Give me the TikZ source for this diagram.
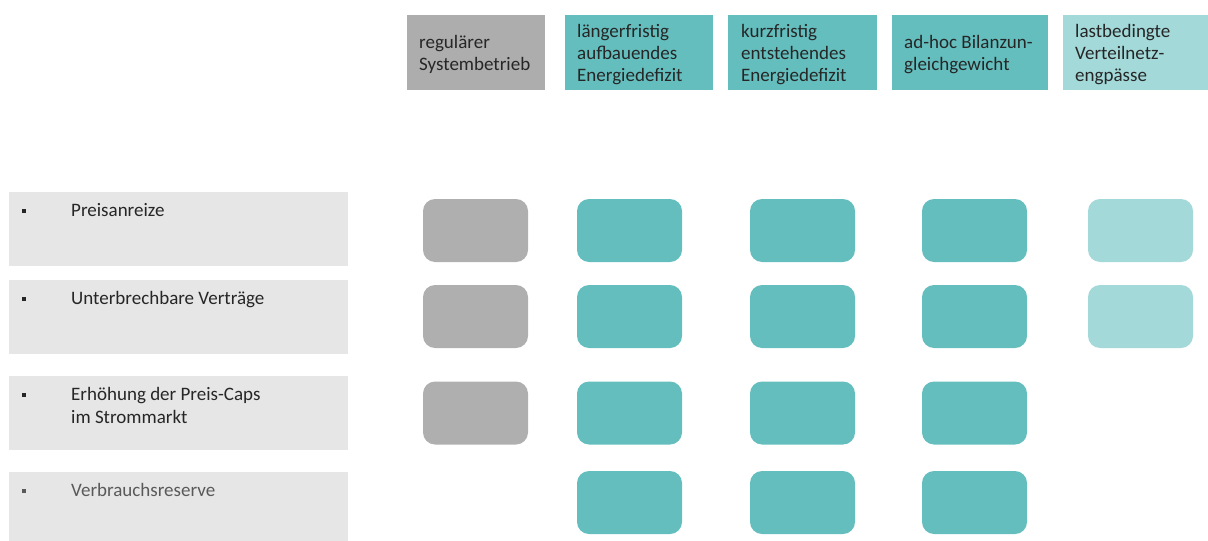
\documentclass[tikz,border=0pt]{standalone}
\usepackage{fontspec}
\setmainfont{Carlito}
\definecolor{hdgray}{HTML}{ADADAD}
\definecolor{teal}{HTML}{64BEBE}
\definecolor{lteal}{HTML}{A3D9D9}
\definecolor{cellgray}{HTML}{AFAFAF}
\definecolor{labelbg}{HTML}{E6E6E6}
\definecolor{ink}{HTML}{262626}
\definecolor{softink}{HTML}{595959}
\begin{document}
\begin{tikzpicture}[x=1pt,y=-1pt,
  hdbox/.style={rectangle,draw=none,inner sep=0,anchor=north west},
  hdtext/.style={anchor=west,inner sep=0,align=left,text=ink,yshift=-2,
    font=\fontsize{19}{22}\selectfont},
  lblbox/.style={rectangle,fill=labelbg,inner sep=0,anchor=north west,
    minimum width=339,minimum height=74},
  % base of a multi-line node is its last line
  lbltext/.style={anchor=base west,inner sep=0,align=left,text=ink,
    font=\fontsize{19}{23}\selectfont},
  bullet/.style={rectangle,fill=ink,inner sep=0,minimum size=4},
  cell/.style={rectangle,rounded corners=12,inner sep=0,
    minimum width=105,minimum height=63}]
\useasboundingbox (0,0) rectangle (1208,541);

% column headers
\node[hdbox,fill=hdgray,minimum width=138,minimum height=75] (h1) at (407,15) {};
\node[hdbox,fill=teal,minimum width=148,minimum height=75] (h2) at (565,15) {};
\node[hdbox,fill=teal,minimum width=149,minimum height=75] (h3) at (728,15) {};
\node[hdbox,fill=teal,minimum width=156,minimum height=75] (h4) at (892,15) {};
\node[hdbox,fill=lteal,minimum width=145,minimum height=75] (h5) at (1063,15) {};

\node[hdtext] (t1) at ([xshift=12]h1.west) {regulärer\\Systembetrieb};
\node[hdtext] (t2) at ([xshift=12]h2.west) {längerfristig\\aufbauendes\\Energiedefizit};
\node[hdtext] (t3) at ([xshift=13]h3.west) {kurzfristig\\entstehendes\\Energiedefizit};
\node[hdtext] (t4) at ([xshift=12]h4.west) {ad-hoc Bilanzun-\\gleichgewicht};
\node[hdtext] (t5) at ([xshift=12]h5.west) {lastbedingte\\Verteilnetz-\\engpässe};

% row labels
\node[lblbox] (r1) at (9,192) {};
\node[lblbox] (r2) at (9,280) {};
\node[lblbox] (r3) at (9,376) {};
\node[lblbox,minimum height=69] (r4) at (9,472) {};

\node[bullet] (b1) at (24,211) {};
\node[bullet] (b2) at (24,299) {};
\node[bullet] (b3) at (24,395) {};
\node[bullet,fill=softink] (b4) at (24,491) {};

\node[lbltext] (l1) at (71,216.5) {Preisanreize};
\node[lbltext] (l2) at (71,304.5) {Unterbrechbare Verträge};
\node[lbltext] (l3) at (71,423.5) {Erhöhung der Preis-Caps\\im Strommarkt};
\node[lbltext,text=softink] (l4) at (71,496.5) {Verbrauchsreserve};

% matrix of applicable measures
\foreach \r/\y in {1/230.5,2/316.5,3/413}
  \node[cell,fill=cellgray] (c\r-1) at (475.5,\y) {};
\foreach \r/\y in {1/230.5,2/316.5,3/413,4/502.5}{
  \node[cell,fill=teal] (c\r-2) at (629.5,\y) {};
  \node[cell,fill=teal] (c\r-3) at (802.5,\y) {};
  \node[cell,fill=teal] (c\r-4) at (974.5,\y) {};
}
\foreach \r/\y in {1/230.5,2/316.5}
  \node[cell,fill=lteal] (c\r-5) at (1140.5,\y) {};
\end{tikzpicture}
\end{document}
